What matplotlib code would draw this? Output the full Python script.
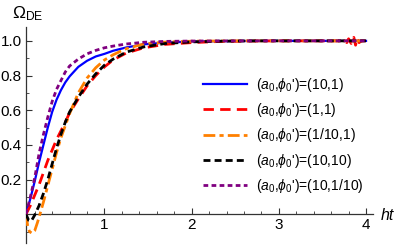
import numpy as np
import matplotlib
matplotlib.use('Agg')
import matplotlib.pyplot as plt
from matplotlib.ticker import MultipleLocator, FixedLocator

plt.rcParams['font.family'] = ['Liberation Sans', 'DejaVu Sans']
plt.rcParams['mathtext.fontset'] = 'custom'
plt.rcParams['mathtext.rm'] = 'Liberation Sans'
plt.rcParams['mathtext.it'] = 'Liberation Sans:italic'
plt.rcParams['mathtext.fallback'] = 'stixsans'
plt.rcParams['lines.scale_dashes'] = False

# curves (t = h t, Omega_DE)
t_blue = [0.10, 0.15, 0.20, 0.25, 0.30, 0.35, 0.40, 0.45, 0.50, 0.55, 0.60, 0.70, 0.80,
          0.90, 1.00, 1.10, 1.25, 1.45, 1.70, 2.00, 2.50, 3.00, 3.50, 4.00]
om_blue = [0.0, 0.09, 0.19, 0.30, 0.40, 0.50, 0.59, 0.66, 0.715, 0.76, 0.795, 0.85, 0.885,
           0.91, 0.925, 0.943, 0.962, 0.98, 0.99, 0.996, 0.999, 1.0, 1.0, 1.0]

t_red = [0.10, 0.15, 0.20, 0.25, 0.30, 0.35, 0.40, 0.45, 0.50, 0.55, 0.60, 0.70, 0.80,
         0.90, 1.00, 1.10, 1.25, 1.45, 1.70, 2.00, 2.30, 2.70, 3.00, 3.50, 3.70, 3.75,
         3.78, 3.80, 3.83, 3.86, 3.88, 3.90, 3.92, 3.95, 4.00]
om_red = [0.0, 0.05, 0.11, 0.17, 0.24, 0.31, 0.37, 0.43, 0.48, 0.53, 0.585, 0.665, 0.74,
          0.80, 0.85, 0.89, 0.93, 0.96, 0.98, 0.99, 0.996, 0.999, 1.0, 1.0, 1.0, 1.006,
          0.99, 1.012, 0.985, 1.02, 0.975, 1.015, 0.99, 1.0, 1.0]

t_orange = [0.10, 0.12, 0.14, 0.17, 0.20, 0.23, 0.26, 0.30, 0.35, 0.40, 0.45, 0.50, 0.55,
            0.60, 0.70, 0.80, 0.90, 1.00, 1.10, 1.25, 1.45, 1.70, 2.00, 2.50, 3.00, 3.50, 4.00]
om_orange = [0.0, -0.07, -0.10, -0.11, -0.095, -0.05, 0.0, 0.07, 0.165, 0.26, 0.355, 0.44,
             0.51, 0.58, 0.70, 0.785, 0.845, 0.89, 0.92, 0.955, 0.982, 0.993, 0.998, 1.0,
             1.0, 1.0, 1.0]

t_black = [0.10, 0.13, 0.16, 0.20, 0.25, 0.30, 0.35, 0.40, 0.45, 0.50, 0.55, 0.60, 0.70,
           0.80, 0.90, 1.00, 1.10, 1.25, 1.45, 1.70, 2.00, 2.30, 2.70, 3.00, 3.50, 4.00]
om_black = [0.0, -0.035, -0.04, -0.005, 0.05, 0.12, 0.20, 0.29, 0.38, 0.46, 0.53, 0.59,
            0.675, 0.75, 0.81, 0.86, 0.895, 0.935, 0.965, 0.985, 0.994, 0.998, 1.0, 1.0,
            1.0, 1.0]

t_purple = [0.10, 0.15, 0.20, 0.25, 0.30, 0.35, 0.40, 0.45, 0.50, 0.55, 0.60, 0.70, 0.80,
            0.90, 1.00, 1.10, 1.25, 1.45, 1.70, 2.00, 2.50, 3.00, 3.50, 4.00]
om_purple = [0.0, 0.10, 0.21, 0.35, 0.46, 0.56, 0.65, 0.72, 0.77, 0.82, 0.855, 0.895, 0.925,
             0.945, 0.96, 0.97, 0.982, 0.992, 0.997, 0.999, 1.0, 1.0, 1.0, 1.0]

labels = [r"($a_0$,$\phi_0$')=(10,1)", r"($a_0$,$\phi_0$')=(1,1)",
          r"($a_0$,$\phi_0$')=(1/10,1)", r"($a_0$,$\phi_0$')=(10,10)",
          r"($a_0$,$\phi_0$')=(10,1/10)"]

fig = plt.figure(figsize=(3.96, 2.46), dpi=100)
ax = fig.add_axes([26 / 396, 3 / 246, 347 / 396, 216 / 246])

ax.plot(t_blue, om_blue, color='#0000ff', lw=1.6, label=labels[0], zorder=3)
ax.plot(t_red, om_red, color='#ff0000', lw=2.0, dashes=(7.5, 4.5), label=labels[1], zorder=4)
ax.plot(t_orange, om_orange, color='#ff8000', lw=2.0, dashes=(8.5, 3, 3, 3),
        label=labels[2], zorder=5)
ax.plot(t_black, om_black, color='black', lw=2.0, dashes=(5, 3), label=labels[3], zorder=6)
ax.plot(t_purple, om_purple, color='#800080', lw=2.0, dashes=(3.4, 2.4), label=labels[4],
        zorder=7)

ax.set_xlim(0.1, 4.08)
ax.set_ylim(-0.166, 1.08)
ax.spines['top'].set_visible(False)
ax.spines['right'].set_visible(False)
ax.spines['bottom'].set_position(('data', 0))
for s in ['left', 'bottom']:
    ax.spines[s].set_color('#333333')
    ax.spines[s].set_linewidth(0.9)

ax.xaxis.set_major_locator(FixedLocator([1, 2, 3, 4]))
ax.xaxis.set_minor_locator(FixedLocator([0.2, 0.4, 0.6, 0.8, 1.2, 1.4, 1.6, 1.8, 2.2, 2.4,
                                         2.6, 2.8, 3.2, 3.4, 3.6, 3.8, 4.2]))
ax.yaxis.set_major_locator(FixedLocator([0.2, 0.4, 0.6, 0.8, 1.0]))
ax.yaxis.set_minor_locator(FixedLocator([-0.1, 0.1, 0.3, 0.5, 0.7, 0.9]))
ax.set_yticklabels(['0.2', '0.4', '0.6', '0.8', '1.0'])
ax.tick_params(which='both', direction='in', color='#333333', labelsize=11, pad=3)
ax.tick_params(which='major', length=4, width=0.8)
ax.tick_params(which='minor', length=2.5, width=0.6)

fig.text(12 / 396, 1 - 18 / 246, r'$\Omega_{\rm DE}$', fontsize=12.5, va='baseline')
fig.text(381 / 396, 1 - 220 / 246, 'ht', fontsize=11.5, style='italic', va='baseline')

ax.legend(loc='upper left', bbox_to_anchor=(203 / 396, 1 - 76 / 246),
          bbox_transform=fig.transFigure, frameon=False, fontsize=10,
          handlelength=3.2, handletextpad=0.6, labelspacing=0.52,
          borderpad=0, borderaxespad=0)

fig.savefig('out.png', dpi=100)
